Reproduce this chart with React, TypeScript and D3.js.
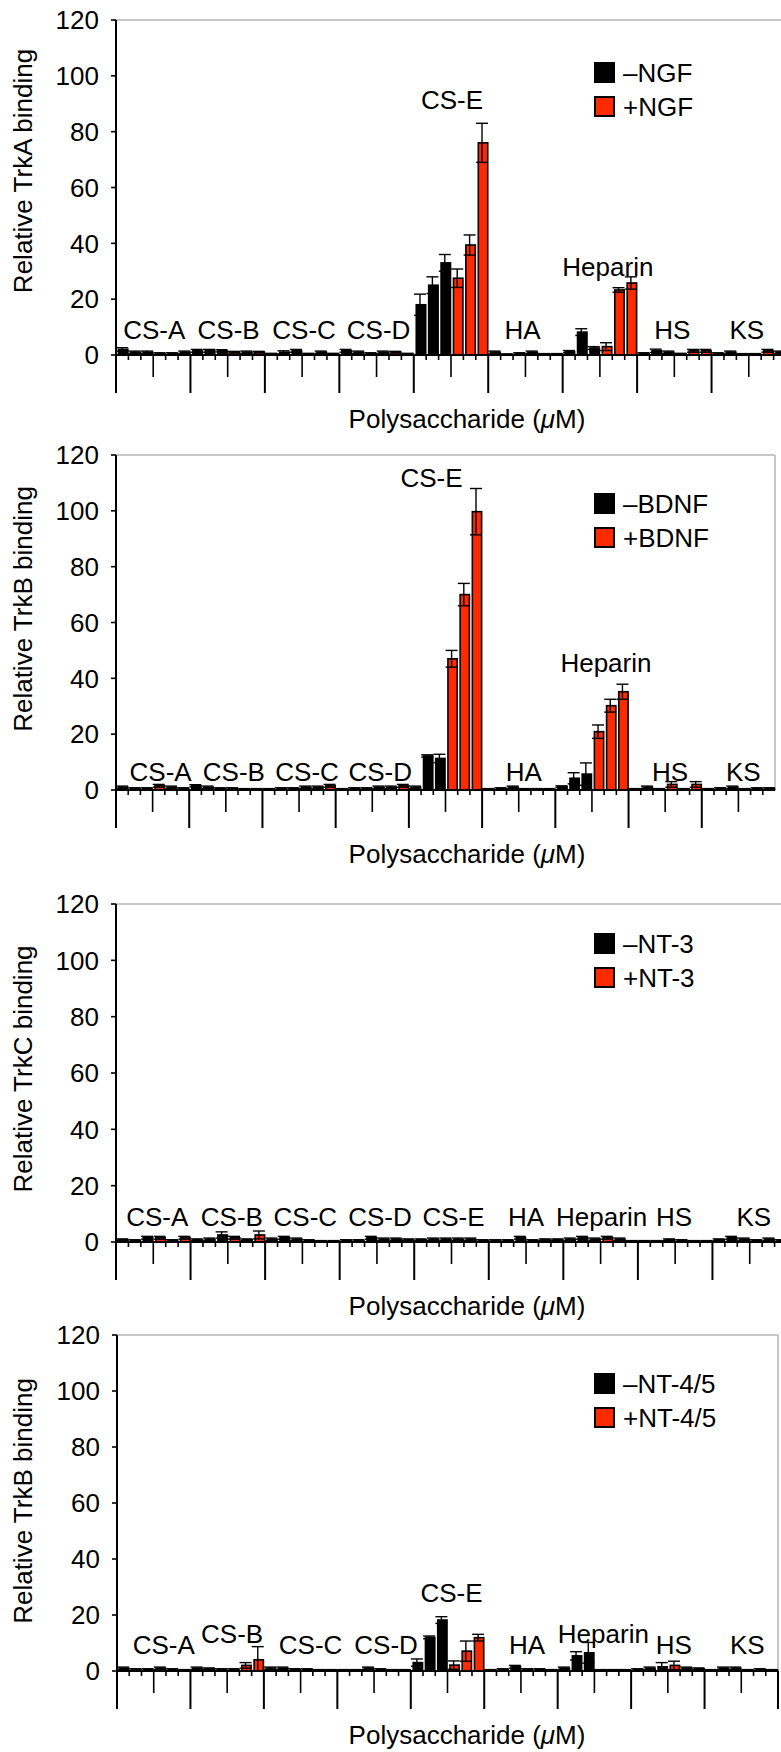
import React from "react";
import * as d3 from "d3";

// polysaccharide groups, each with three "minus" and three "plus" concentrations
const groups = ["CS-A", "CS-B", "CS-C", "CS-D", "CS-E", "HA", "Heparin", "HS", "KS"];
const yTicks = [0, 20, 40, 60, 80, 100, 120];
const xTitle = "Polysaccharide (";

// TrkA / NGF
const ngfMean = [
  [2, 1, 1, 0.5, 0.5, 1],
  [1.5, 1.5, 1.5, 1, 1, 1],
  [0.3, 1, 1.5, 0.3, 1, 0.3],
  [1.5, 1, 0.5, 1, 1, 0.3],
  [18, 25, 33, 27.5, 39.4, 76],
  [1, 0.2, 0.5, 1, 0.3, 0.3],
  [1.2, 8.2, 2.5, 3, 23.3, 25.8],
  [0.5, 1.5, 1, 0.3, 1.5, 1.5],
  [0.5, 1, 0.3, 0.3, 1.5, 1],
];
const ngfErr = [
  [0.6, 0.4, 0.4, 0.3, 0.3, 0.4],
  [0.5, 0.5, 0.4, 0.3, 0.4, 0.3],
  [0.3, 0.5, 0.5, 0.3, 0.4, 0.3],
  [0.5, 0.4, 0.3, 0.4, 0.3, 0.3],
  [3.8, 3, 3, 3.3, 3.6, 7],
  [0.4, 0.2, 0.3, 0.4, 0.2, 0.2],
  [0.4, 1.2, 0.5, 1.4, 0.8, 2.2],
  [0.3, 0.6, 0.4, 0.3, 0.5, 0.5],
  [0.3, 0.4, 0.2, 0.2, 0.5, 0.4],
];

// TrkB / BDNF
const bdnfMean = [
  [1, 0.5, 0.5, 1.5, 1, 0.5],
  [1.5, 1, 0.5, 0.5, 0.3, 0.3],
  [0.3, 0.5, 0.5, 1, 1, 1.5],
  [0.3, 0.5, 0.5, 1, 1, 1.5],
  [1, 12.2, 11.3, 47, 70, 99.7],
  [0.3, 0.5, 1, 0.3, 0.3, 0.3],
  [1.2, 4.2, 5.7, 20.9, 30.2, 35.2],
  [0.3, 1, 0.3, 2, 0.3, 2],
  [0.3, 0.5, 1, 0.3, 0.5, 0.5],
];
const bdnfErr = [
  [0.4, 0.3, 0.3, 0.5, 0.4, 0.3],
  [0.4, 0.4, 0.3, 0.3, 0.2, 0.2],
  [0.2, 0.3, 0.3, 0.4, 0.4, 0.5],
  [0.2, 0.3, 0.3, 0.4, 0.4, 0.5],
  [0.4, 0.4, 1.5, 3, 4, 8.3],
  [0.2, 0.3, 0.4, 0.2, 0.2, 0.2],
  [0.3, 2, 4, 2.4, 2.3, 2.7],
  [0.2, 0.4, 0.2, 1, 0.2, 1],
  [0.2, 0.3, 0.4, 0.2, 0.3, 0.3],
];

// TrkC / NT-3
const nt3Mean = [
  [0.8, 0.5, 1.5, 1.5, 0.5, 1.5],
  [0.8, 1, 2.5, 1.5, 0.8, 2.5],
  [1, 1.5, 1, 0.5, 0.3, 0.3],
  [0.5, 0.5, 1.5, 1, 1, 0.8],
  [0.8, 1, 1, 1, 1, 0.5],
  [0.5, 0.5, 1.5, 0.5, 0.8, 0.8],
  [1, 1.5, 1, 1.5, 1, 0.3],
  [0.3, 0.3, 0.8, 0.5, 0.3, 0.3],
  [0.8, 1.5, 1, 0.5, 1, 0.5],
];
const nt3Err = [
  [0.3, 0.3, 0.5, 0.5, 0.3, 0.5],
  [0.3, 0.4, 1.1, 0.5, 0.3, 1.4],
  [0.4, 0.5, 0.4, 0.3, 0.2, 0.2],
  [0.3, 0.3, 0.5, 0.4, 0.4, 0.3],
  [0.3, 0.4, 0.4, 0.4, 0.4, 0.3],
  [0.3, 0.3, 0.5, 0.3, 0.3, 0.3],
  [0.4, 0.5, 0.4, 0.5, 0.4, 0.2],
  [0.2, 0.2, 0.3, 0.3, 0.2, 0.2],
  [0.3, 0.5, 0.4, 0.3, 0.4, 0.3],
];

// TrkB / NT-4/5
const nt45Mean = [
  [1, 0.5, 0.5, 1, 0.5, 0.3],
  [1, 0.8, 0.5, 0.5, 2, 4],
  [1, 1, 0.5, 0.5, 0.3, 0.3],
  [0.3, 0.3, 1, 0.5, 0.3, 0.3],
  [3, 12, 18.2, 2.1, 7.1, 11.9],
  [0.3, 0.5, 1.5, 0.5, 0.5, 0.3],
  [1, 5.4, 6.5, 0.3, 0.3, 0.3],
  [0.5, 1, 1.5, 2, 1, 0.8],
  [0.3, 1, 1, 0.3, 0.5, 0.3],
];
const nt45Err = [
  [0.4, 0.3, 0.3, 0.4, 0.3, 0.2],
  [0.4, 0.3, 0.3, 0.3, 1, 4.7],
  [0.4, 0.4, 0.3, 0.3, 0.2, 0.2],
  [0.2, 0.2, 0.4, 0.3, 0.2, 0.2],
  [1.3, 0.5, 1.2, 1.5, 3.6, 1.2],
  [0.2, 0.3, 0.5, 0.3, 0.3, 0.2],
  [0.4, 1.5, 3.7, 0.2, 0.2, 0.2],
  [0.3, 0.4, 1.5, 1.5, 0.4, 0.3],
  [0.2, 0.4, 0.4, 0.2, 0.3, 0.2],
];

const FONT = "'Liberation Sans', Arial, Helvetica, sans-serif";
const RED = "#ff2a00";

const panels = [
  {
    yTitle: "Relative TrkA binding", legend: ["–NGF", "+NGF"], mean: ngfMean, err: ngfErr,
    x0: 116, x1: 786, yTop: 20, yZero: 355, box: false, endTick: false,
    legendY: 62, titleY: 171,
    labelDx: [1, 1, 2, 2, 1, -3, 8, -2, -2], labelLevel: [9, 9, 9, 9, 91.4, 9, 31.5, 9, 9],
  },
  {
    yTitle: "Relative TrkB binding", legend: ["–BDNF", "+BDNF"], mean: bdnfMean, err: bdnfErr,
    x0: 116, x1: 775, yTop: 455, yZero: 790, box: true, endTick: false,
    legendY: 493, titleY: 609,
    labelDx: [8, 8, 8, 8, -14, 5, 14, 5, 5], labelLevel: [6.6, 6.6, 6.6, 6.6, 112, 6.6, 45.5, 6.6, 6.6],
  },
  {
    yTitle: "Relative TrkC binding", legend: ["–NT-3", "+NT-3"], mean: nt3Mean, err: nt3Err,
    x0: 116, x1: 787, yTop: 904, yZero: 1242, box: false, endTick: false,
    legendY: 933, titleY: 1069,
    labelDx: [4, 4, 3, 3, 2, 0, 1, -1, 4], labelLevel: [9, 9, 9, 9, 9, 9, 9, 9, 9],
  },
  {
    yTitle: "Relative TrkB binding", legend: ["–NT-4/5", "+NT-4/5"], mean: nt45Mean, err: nt45Err,
    x0: 117, x1: 778, yTop: 1335, yZero: 1671, box: true, endTick: true,
    legendY: 1373, titleY: 1501,
    labelDx: [10, 5, 10, 12, 4, 6, 9, 6, 6], labelLevel: [9.3, 13.5, 9.3, 9.3, 28, 9.3, 13.5, 9.3, 9.3],
  },
];

type PanelCfg = (typeof panels)[number];

const Panel = ({ p }: { p: PanelCfg }) => {
  const x = d3.scaleBand<string>().domain(groups).range([p.x0, p.x1]);
  const bw = x.bandwidth();
  const slot = d3.scaleBand<number>().domain(d3.range(6)).range([0, bw]);
  const sw = slot.bandwidth();
  const y = d3.scaleLinear().domain([0, 120]).range([p.yZero, p.yTop]);
  const majorLen = 38;

  const ticks: { x: number; len: number }[] = [];
  groups.forEach((g, gi) => {
    const gx = x(g)!;
    if (gi > 0 || true) ticks.push({ x: gx, len: majorLen });
    for (let k = 1; k < 6; k++) ticks.push({ x: gx + slot(k)!, len: k === 3 ? 22 : 5 });
  });
  if (p.endTick) ticks.push({ x: p.x1, len: majorLen });

  return (
    <g>
      {/* frame */}
      <line x1={p.x0} x2={p.box ? p.x1 : 781} y1={p.yTop} y2={p.yTop} stroke="#b4b4b4" strokeWidth={1.5} />
      {p.box && (
        <line x1={p.x1} x2={p.x1} y1={p.yTop} y2={p.endTick ? p.yZero : p.yZero} stroke="#b4b4b4" strokeWidth={1.5} />
      )}

      {/* bars */}
      {groups.map((g, gi) =>
        p.mean[gi].map((v, i) => {
          const bx = x(g)! + slot(i)! + sw * 0.2;
          return (
            <rect
              key={`${g}-${i}`}
              x={bx}
              y={y(v)}
              width={sw * 0.76}
              height={Math.max(0.01, y(0) - y(v))}
              fill={i < 3 ? "#000" : RED}
              stroke="#000"
              strokeWidth={1.6}
            />
          );
        })
      )}

      {/* error bars */}
      {groups.map((g, gi) =>
        p.mean[gi].map((v, i) => {
          const e = p.err[gi][i];
          const cx = x(g)! + slot(i)! + sw * 0.5;
          const hi = y(v + e);
          const lo = y(Math.max(0, v - e));
          const cap = 6;
          return (
            <g key={`e-${g}-${i}`} stroke="#000" strokeWidth={1.4}>
              <line x1={cx} x2={cx} y1={hi} y2={lo} />
              <line x1={cx - cap} x2={cx + cap} y1={hi} y2={hi} />
              <line x1={cx - cap} x2={cx + cap} y1={lo} y2={lo} />
            </g>
          );
        })
      )}

      {/* x axis */}
      <line x1={p.x0} x2={p.x1} y1={p.yZero} y2={p.yZero} stroke="#000" strokeWidth={2} />
      {ticks.map((t, i) => (
        <line key={i} x1={t.x} x2={t.x} y1={p.yZero} y2={p.yZero + t.len} stroke="#000" strokeWidth={t.len === majorLen ? 2 : 1.6} />
      ))}

      {/* y axis */}
      <line x1={p.x0} x2={p.x0} y1={p.yTop} y2={p.yZero + majorLen} stroke="#000" strokeWidth={2} />
      {yTicks.map((t) => (
        <g key={t}>
          <line x1={p.x0 - 5} x2={p.x0} y1={y(t)} y2={y(t)} stroke="#000" strokeWidth={1.6} />
          <text x={p.x0 - 17} y={y(t) + 9.3} textAnchor="end" fontSize={26}>
            {t}
          </text>
        </g>
      ))}

      {/* group labels */}
      {groups.map((g, gi) => (
        <text
          key={`l-${g}`}
          x={x(g)! + bw / 2 + p.labelDx[gi]}
          y={y(p.labelLevel[gi]) + 9.3}
          textAnchor="middle"
          fontSize={26}
        >
          {g}
        </text>
      ))}

      {/* legend */}
      {p.legend.map((name, i) => (
        <g key={name} transform={`translate(594,${p.legendY + i * 34})`}>
          <rect x={1} y={1} width={19} height={19} fill={i === 0 ? "#000" : RED} stroke="#000" strokeWidth={2} />
          <text x={29} y={20} fontSize={26}>
            {name}
          </text>
        </g>
      ))}

      {/* axis titles */}
      <text transform={`translate(32,${p.titleY}) rotate(-90)`} textAnchor="middle" fontSize={26}>
        {p.yTitle}
      </text>
      <text x={467} y={p.yZero + 73} textAnchor="middle" fontSize={26}>
        {xTitle}
        <tspan fontStyle="italic">μ</tspan>M)
      </text>
    </g>
  );
};

export default function App() {
  return (
    <div style={{ position: "absolute", left: 0, top: 0 }}>
      <svg width={781} height={1752} style={{ display: "block", fontFamily: FONT }}>
        <rect width={781} height={1752} fill="#fff" />
        {panels.map((p, i) => (
          <Panel key={i} p={p} />
        ))}
      </svg>
    </div>
  );
}
